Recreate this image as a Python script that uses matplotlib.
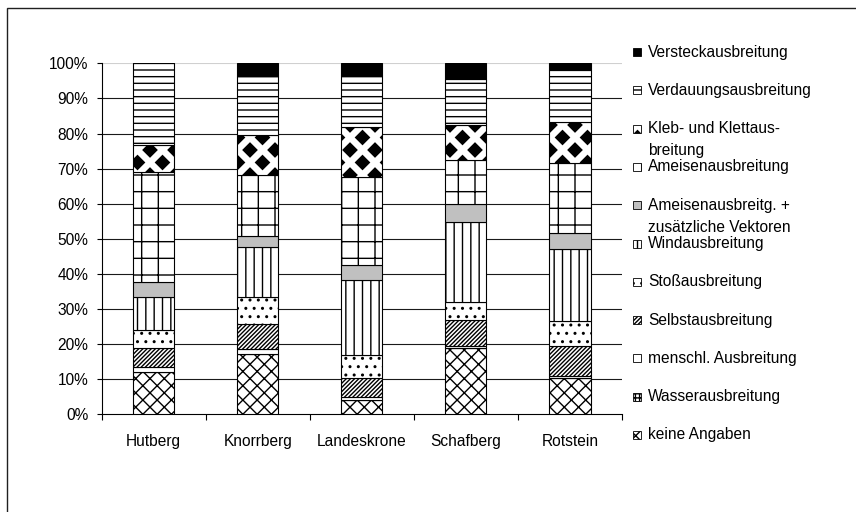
import numpy as np
import matplotlib
matplotlib.use('Agg')
import matplotlib.pyplot as plt
from matplotlib import hatch as mhatch
from matplotlib.path import Path
from matplotlib.patches import Rectangle
from matplotlib.ticker import FixedLocator

# ---------------- data ----------------
sites = ['Hutberg', 'Knorrberg', 'Landeskrone', 'Schafberg', 'Rotstein']
series_names = ['keine Angaben', 'Wasserausbreitung', 'menschl. Ausbreitung',
                'Selbstausbreitung', 'Stoßausbreitung', 'Windausbreitung',
                'Ameisenausbreitg. +\nzusätzliche Vektoren', 'Ameisenausbreitung',
                'Kleb- und Klettaus-\nbreitung', 'Verdauungsausbreitung',
                'Versteckausbreitung']
keine = [12.1, 17.1, 4.2, 18.9, 10.2]
wasser = [0.0, 0.0, 0.0, 0.0, 0.0]
menschl = [1.4, 1.6, 0.7, 0.5, 0.6]
selbst = [5.4, 7.1, 5.3, 7.6, 8.6]
stoss = [5.0, 7.6, 6.6, 5.0, 7.3]
wind = [9.5, 14.3, 21.4, 22.8, 20.5]
ameisen_vekt = [4.3, 3.0, 4.3, 5.0, 4.5]
ameisen = [31.3, 17.4, 25.1, 12.7, 20.0]
kleb = [7.6, 11.4, 14.3, 9.8, 11.6]
verdauung = [23.4, 16.8, 14.7, 13.3, 14.7]
versteck = [0.0, 3.7, 3.4, 4.4, 2.0]
ytick_values = [0, 10, 20, 30, 40, 50, 60, 70, 80, 90, 100]
ytick_labels = ['0%', '10%', '20%', '30%', '40%', '50%', '60%', '70%', '80%', '90%', '100%']

values = [keine, wasser, menschl, selbst, stoss, wind, ameisen_vekt, ameisen,
          kleb, verdauung, versteck]

# ---------------- custom hatches ----------------
class HHatch(mhatch.HorizontalHatch):
    def __init__(self, hatch, density):
        self.num_lines = int(hatch.count('-') * 5 + hatch.count('+') * density)
        self.num_vertices = self.num_lines * 2


class NEHatch(mhatch.NorthEastHatch):
    def __init__(self, hatch, density):
        self.num_lines = int(hatch.count('/') * density + hatch.count('x') * 7)
        if self.num_lines:
            self.num_vertices = (self.num_lines + 1) * 2
        else:
            self.num_vertices = 0


class SEHatch(mhatch.SouthEastHatch):
    def __init__(self, hatch, density):
        self.num_lines = int(hatch.count('\\') * density + hatch.count('x') * 7)
        if self.num_lines:
            self.num_vertices = (self.num_lines + 1) * 2
        else:
            self.num_vertices = 0


class DiamondHatch(mhatch.HatchPatternBase):
    def __init__(self, hatch, density):
        n = hatch.count('*')
        self.rows = 8 * n
        self.cols = 4 * n
        self.centers = []
        if n:
            for r in range(self.rows + 1):
                y = r / self.rows
                if r % 2 == 0:
                    xs = np.arange(self.cols + 1) / self.cols
                else:
                    xs = (np.arange(self.cols) + 0.5) / self.cols
                for x in xs:
                    self.centers.append((x, y))
        self.num_vertices = len(self.centers) * 5

    def set_vertices_and_codes(self, vertices, codes):
        h = 0.55 / self.rows
        shape = np.array([[0, h], [h, 0], [0, -h], [-h, 0], [0, h]])
        for i, c in enumerate(self.centers):
            vertices[i * 5:(i + 1) * 5] = shape + np.array(c)
            codes[i * 5] = Path.MOVETO
            codes[i * 5 + 1:i * 5 + 4] = Path.LINETO
            codes[i * 5 + 4] = Path.CLOSEPOLY


replace = {mhatch.HorizontalHatch: HHatch, mhatch.NorthEastHatch: NEHatch,
           mhatch.SouthEastHatch: SEHatch}
new_types = []
for t in mhatch._hatch_types:
    if t is mhatch.Stars:
        continue
    new_types.append(replace.get(t, t))
new_types.append(DiamondHatch)
mhatch._hatch_types = new_types

plt.rcParams['font.family'] = ['Liberation Sans', 'DejaVu Sans']
plt.rcParams['hatch.linewidth'] = 1.0

styles = [('white', 'xx'), ('white', '++++'), ('white', ''), ('white', '////////'),
          ('white', '..'), ('white', '||'), ('#c0c0c0', ''), ('white', '+'),
          ('white', '*'), ('white', '---'), ('black', '')]

W, H = 856, 512
fig = plt.figure(figsize=(W / 100, H / 100), dpi=100)
ax = fig.add_axes([101.7 / W, 1 - 414.3 / H, (622 - 101.7) / W, (414.3 - 63.3) / H])

x = np.arange(len(sites))
bottom = np.zeros(len(sites))
for vals, (fc, ht) in zip(values, styles):
    v = np.array(vals, dtype=float)
    ax.bar(x, v, bottom=bottom, width=0.395, facecolor=fc, hatch=ht,
           edgecolor='black', linewidth=0.8, zorder=3)
    bottom += v

ax.set_xlim(-0.5, len(sites) - 0.5)
ax.set_ylim(0, 100)

for yv in ytick_values[1:]:
    ax.axhline(yv, color='#d0d0d0' if yv == 100 else '#1a1a1a', lw=0.8, zorder=1)

ax.set_yticks(ytick_values, ytick_labels)
ax.set_xticks(x, sites)
ax.xaxis.set_minor_locator(FixedLocator(np.arange(len(sites) + 1) - 0.5))
ax.tick_params(axis='x', which='major', length=0, pad=14, labelsize=11.2)
ax.tick_params(axis='x', which='minor', length=4, direction='out', width=0.8)
ax.tick_params(axis='y', length=3.6, width=0.8, pad=6, labelsize=11.2)
for s in ['top', 'right']:
    ax.spines[s].set_visible(False)
ax.spines['left'].set_linewidth(0.8)
ax.spines['bottom'].set_linewidth(0.8)

# ---------------- legend ----------------
for i, idx in enumerate(range(len(series_names) - 1, -1, -1)):
    y_px = 52 + i * 38.3
    fc, ht = styles[idx]
    r = Rectangle((633 / W, 1 - (y_px + 4) / H), 8 / W, 8 / H,
                  transform=fig.transFigure, facecolor=fc, hatch=ht,
                  edgecolor='black', linewidth=0.6)
    fig.add_artist(r)
    for k, line in enumerate(series_names[idx].split('\n')):
        fig.text(648 / W, 1 - (y_px + k * 22) / H, line, fontsize=11.2,
                 va='center', ha='left')

# outer frame
frame = Rectangle((7.5 / W, -0.1), 1.2, 1 - 7.5 / H + 0.1, transform=fig.transFigure,
                  fill=False, edgecolor='#202020', linewidth=1.0)
fig.add_artist(frame)

fig.savefig('out.png', dpi=100)
